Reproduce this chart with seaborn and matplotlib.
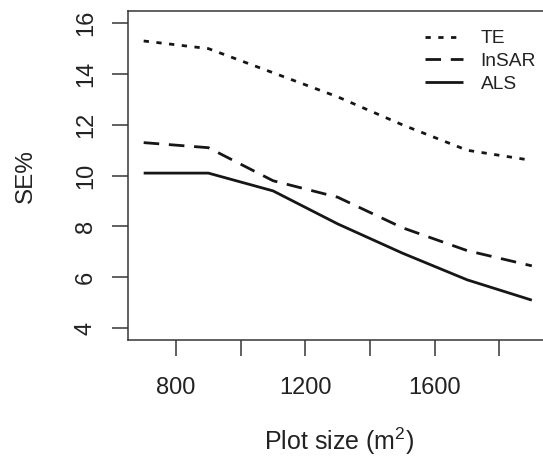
import matplotlib
matplotlib.use("Agg")
import matplotlib.pyplot as plt
import numpy as np
import pandas as pd
import seaborn as sns

# ---- data ----
plot_size = [700, 900, 1100, 1300, 1500, 1700, 1900]
se_te = [15.3, 15.0, 14.05, 13.1, 12.0, 11.0, 10.6]
se_insar = [11.3, 11.1, 9.8, 9.15, 7.95, 7.05, 6.45]
se_als = [10.1, 10.1, 9.4, 8.1, 6.95, 5.9, 5.1]
series_names = ["TE", "InSAR", "ALS"]
x_ticks = [800, 1000, 1200, 1400, 1600, 1800]
x_tick_labels = ["800", "", "1200", "", "1600", ""]
y_ticks = [4, 6, 8, 10, 12, 14, 16]
y_tick_labels = ["4", "6", "8", "10", "12", "14", "16"]

sns.set_style("ticks")
plt.rcParams['font.family'] = ['Liberation Sans', 'DejaVu Sans']
plt.rcParams['mathtext.fontset'] = 'custom'
plt.rcParams['mathtext.rm'] = 'Liberation Sans'
plt.rcParams['mathtext.it'] = 'Liberation Sans:italic'
plt.rcParams['mathtext.sf'] = 'Liberation Sans'

W, H = 543, 459
fig = plt.figure(figsize=(W / 100, H / 100), dpi=100)
left_px, right_px, top_px, bot_px = 127.7, 559.0, 11.0, 340.3
ax = fig.add_axes([left_px / W, 1 - bot_px / H, (right_px - left_px) / W, (bot_px - top_px) / H])

df = pd.DataFrame({
    "size": plot_size * 3,
    "se": se_te + se_insar + se_als,
    "series": [series_names[0]] * len(plot_size) + [series_names[1]] * len(plot_size) + [series_names[2]] * len(plot_size),
})

line_color = "#161616"
lw = 2.0
sns.lineplot(data=df, x="size", y="se", style="series", style_order=series_names,
             dashes={"TE": (1.9, 2.7), "InSAR": (5.6, 3.5), "ALS": ""},
             color=line_color, linewidth=lw, ax=ax, legend=True)
for ln in ax.get_lines():
    ln.set_dash_capstyle('butt')
    ln.set_solid_capstyle('butt')

ax.set_xlim(650.6, 1984)
ax.set_ylim(3.52, 16.48)

spine_col = "#363636"
text_col = "#222222"
for s in ax.spines.values():
    s.set_color(spine_col)
    s.set_linewidth(1.1)

ax.set_xticks(x_ticks)
ax.set_xticklabels(x_tick_labels)
ax.set_yticks(y_ticks)
ax.set_yticklabels(y_tick_labels, rotation=90, va='center')
ax.tick_params(axis='both', direction='out', length=11.2, width=1.1, color=spine_col,
               labelsize=17, labelcolor=text_col)
ax.tick_params(axis='x', pad=15.2)
ax.tick_params(axis='y', pad=11)

ax.set_xlabel("Plot size (m$^{2}$)", fontsize=18, color=text_col)
ax.xaxis.set_label_coords((339 - left_px) / (right_px - left_px), (bot_px - 450) / (bot_px - top_px))
ax.xaxis.label.set_va('baseline')
ax.set_ylabel("SE%", fontsize=17.5, color=text_col)
ax.yaxis.set_label_coords((26 - left_px) / (right_px - left_px), 0.5)
ax.yaxis.label.set_va('center')

handles, labels = ax.get_legend_handles_labels()
for h in handles:
    h.set_dash_capstyle('butt')
    h.set_solid_capstyle('butt')
    h.set_color(line_color)
    h.set_linewidth(lw)
leg = ax.legend(handles, labels, loc='upper left',
                bbox_to_anchor=(425 / W, 1 - 30.0 / H), bbox_transform=fig.transFigure,
                frameon=False, borderpad=0, borderaxespad=0, fontsize=13.8,
                handlelength=2.0, handletextpad=0.9, labelspacing=0.28)
for t in leg.get_texts():
    t.set_color(text_col)

fig.savefig("out.png", dpi=100)
